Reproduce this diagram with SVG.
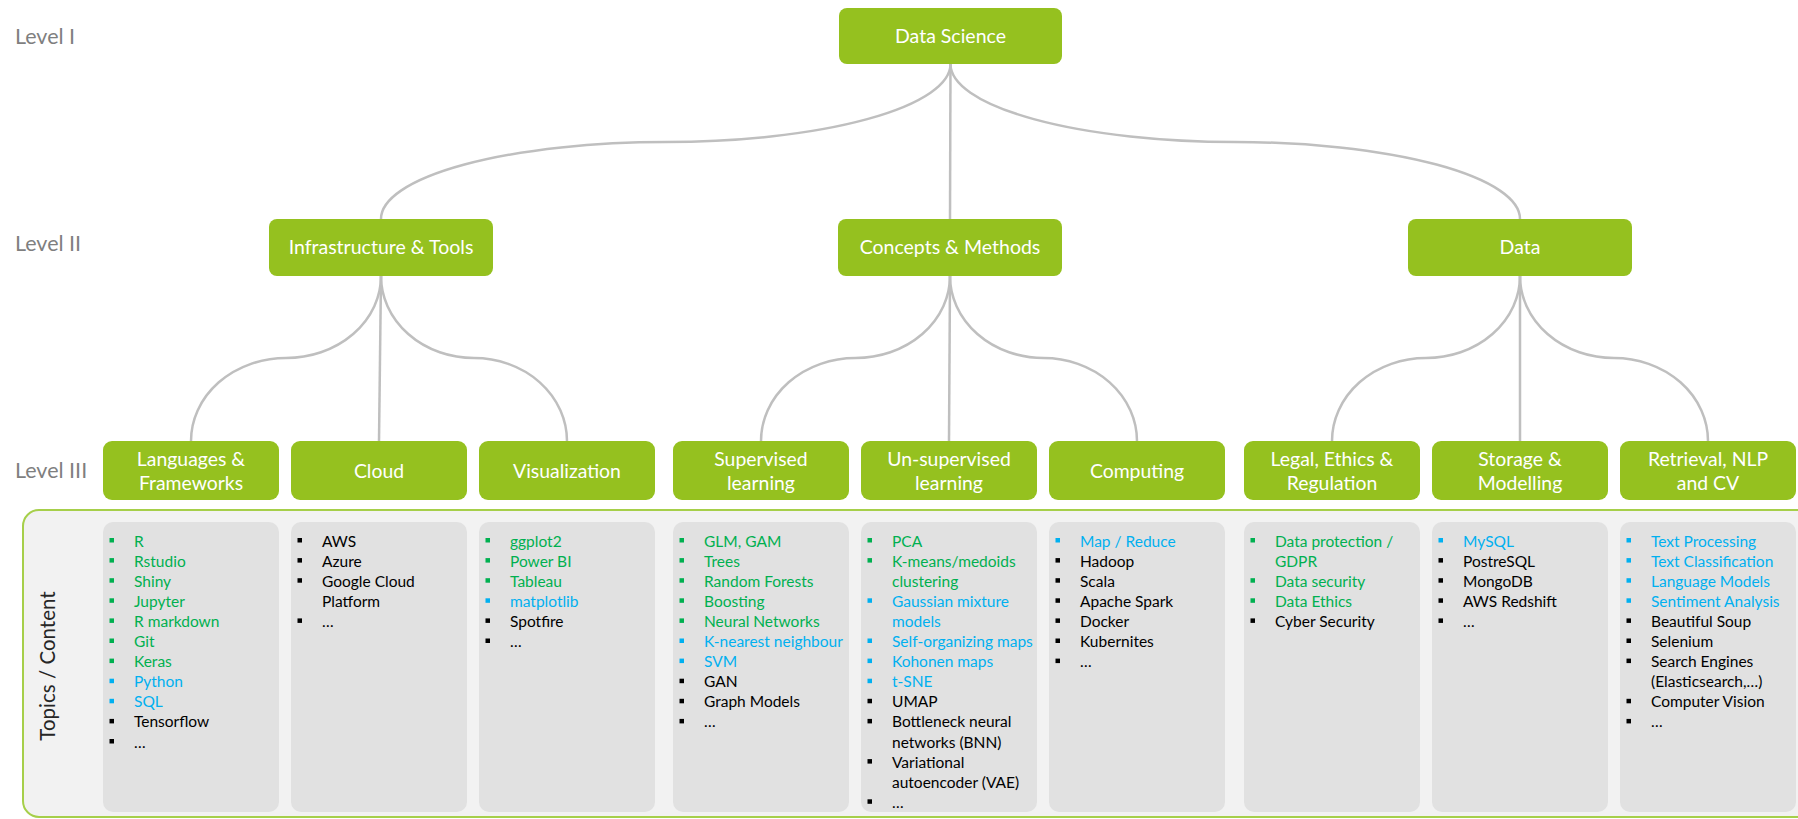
<svg xmlns="http://www.w3.org/2000/svg" width="1798" height="819" viewBox="0 0 1798 819">
<style>
text{font-family:Lato,"Liberation Sans",sans-serif}
.lvl{font-size:21.5px;fill:#7f7f7f}
.box{fill:#95c11f}
.bt{font-size:19.5px;fill:#fff;text-anchor:middle}
.bt3{font-size:19.4px;fill:#fff;text-anchor:middle}
.card{fill:#e1e1e1}
.li{font-size:15.5px}
.g{fill:#00b050}
.b{fill:#00b0f0}
.k{fill:#000}
.con{fill:none;stroke:#bfbfbf;stroke-width:2.5}
</style>
<rect width="1798" height="819" fill="#fff"/>
<text class="lvl" x="15" y="44">Level I</text>
<text class="lvl" x="15" y="251">Level II</text>
<text class="lvl" x="15" y="478">Level III</text>
<g id="panel">
<rect x="23" y="510" width="1800" height="307" rx="16" fill="#f2f2f2" stroke="#a6cf4a" stroke-width="2"/>
<text x="47" y="666" transform="rotate(-90 47 666)" text-anchor="middle" dominant-baseline="central" font-size="20.5" fill="#262626">Topics / Content</text>
</g>
<g id="connectors">
<path class="con" d="M950.5,64 A285,78 0 0 1 666,142 A285,77 0 0 0 381,219"/>
<path class="con" d="M950.5,64 L950,219"/>
<path class="con" d="M950.5,64 A285,78 0 0 0 1235,142 A285,77 0 0 1 1520,219"/>
<path class="con" d="M381,276 A95,82 0 0 1 286,358 A95,83 0 0 0 191,441"/>
<path class="con" d="M381,276 L379,441"/>
<path class="con" d="M381,276 A93,82 0 0 0 474,358 A93,83 0 0 1 567,441"/>
<path class="con" d="M950,276 A94.5,82 0 0 1 855.5,358 A94.5,83 0 0 0 761,441"/>
<path class="con" d="M950,276 L949,441"/>
<path class="con" d="M950,276 A93.5,82 0 0 0 1043.5,358 A93.5,83 0 0 1 1137,441"/>
<path class="con" d="M1520,276 A94,82 0 0 1 1426,358 A94,83 0 0 0 1332,441"/>
<path class="con" d="M1520,276 L1520,441"/>
<path class="con" d="M1520,276 A94,82 0 0 0 1614,358 A94,83 0 0 1 1708,441"/>
</g>
<g id="n-datascience"><rect class="box" x="839" y="8" width="223" height="56" rx="8"/><text class="bt" x="950.5" y="43">Data Science</text></g>
<g id="n-infra"><rect class="box" x="269" y="219" width="224" height="57" rx="8"/><text class="bt" x="381" y="254">Infrastructure &amp; Tools</text></g>
<g id="n-concepts"><rect class="box" x="838" y="219" width="224" height="57" rx="8"/><text class="bt" x="950" y="254">Concepts &amp; Methods</text></g>
<g id="n-data"><rect class="box" x="1408" y="219" width="224" height="57" rx="8"/><text class="bt" x="1520" y="254">Data</text></g>

<g id="n-languages"><rect class="box" x="103" y="441" width="176" height="59" rx="9"/><text class="bt3" x="191" y="465.5">Languages &amp;</text><text class="bt3" x="191" y="489.5">Frameworks</text>
<rect class="card" x="103" y="522" width="176" height="290" rx="10"/>
<rect class="g" x="109.5" y="538" width="4.5" height="4.5"/><rect class="g" x="109.5" y="558.1" width="4.5" height="4.5"/><rect class="g" x="109.5" y="578.2" width="4.5" height="4.5"/><rect class="g" x="109.5" y="598.3" width="4.5" height="4.5"/><rect class="g" x="109.5" y="618.4" width="4.5" height="4.5"/><rect class="g" x="109.5" y="638.5" width="4.5" height="4.5"/><rect class="g" x="109.5" y="658.6" width="4.5" height="4.5"/><rect class="b" x="109.5" y="678.7" width="4.5" height="4.5"/><rect class="b" x="109.5" y="698.8" width="4.5" height="4.5"/><rect class="k" x="109.5" y="718.9" width="4.5" height="4.5"/><rect class="k" x="109.5" y="739" width="4.5" height="4.5"/>
<text class="li"><tspan class="g" x="134" y="546.5">R</tspan><tspan class="g" x="134" y="566.6">Rstudio</tspan><tspan class="g" x="134" y="586.7">Shiny</tspan><tspan class="g" x="134" y="606.8">Jupyter</tspan><tspan class="g" x="134" y="626.9">R markdown</tspan><tspan class="g" x="134" y="647">Git</tspan><tspan class="g" x="134" y="667.1">Keras</tspan><tspan class="b" x="134" y="687.2">Python</tspan><tspan class="b" x="134" y="707.3">SQL</tspan><tspan class="k" x="134" y="727.4">Tensorflow</tspan><tspan class="k" x="134" y="747.5">…</tspan></text>
</g>

<g id="n-cloud"><rect class="box" x="291" y="441" width="176" height="59" rx="9"/><text class="bt3" x="379" y="477.5">Cloud</text>
<rect class="card" x="291" y="522" width="176" height="290" rx="10"/>
<rect class="k" x="297.5" y="538" width="4.5" height="4.5"/><rect class="k" x="297.5" y="558.1" width="4.5" height="4.5"/><rect class="k" x="297.5" y="578.2" width="4.5" height="4.5"/><rect class="k" x="297.5" y="618.4" width="4.5" height="4.5"/>
<text class="li"><tspan class="k" x="322" y="546.5">AWS</tspan><tspan class="k" x="322" y="566.6">Azure</tspan><tspan class="k" x="322" y="586.7">Google Cloud</tspan><tspan class="k" x="322" y="606.8">Platform</tspan><tspan class="k" x="322" y="626.9">…</tspan></text>
</g>

<g id="n-visualization"><rect class="box" x="479" y="441" width="176" height="59" rx="9"/><text class="bt3" x="567" y="477.5">Visualization</text>
<rect class="card" x="479" y="522" width="176" height="290" rx="10"/>
<rect class="g" x="485.5" y="538" width="4.5" height="4.5"/><rect class="g" x="485.5" y="558.1" width="4.5" height="4.5"/><rect class="g" x="485.5" y="578.2" width="4.5" height="4.5"/><rect class="b" x="485.5" y="598.3" width="4.5" height="4.5"/><rect class="k" x="485.5" y="618.4" width="4.5" height="4.5"/><rect class="k" x="485.5" y="638.5" width="4.5" height="4.5"/>
<text class="li"><tspan class="g" x="510" y="546.5">ggplot2</tspan><tspan class="g" x="510" y="566.6">Power BI</tspan><tspan class="g" x="510" y="586.7">Tableau</tspan><tspan class="b" x="510" y="606.8">matplotlib</tspan><tspan class="k" x="510" y="626.9">Spotfire</tspan><tspan class="k" x="510" y="647">…</tspan></text>
</g>

<g id="n-supervised"><rect class="box" x="673" y="441" width="176" height="59" rx="9"/><text class="bt3" x="761" y="465.5">Supervised</text><text class="bt3" x="761" y="489.5">learning</text>
<rect class="card" x="673" y="522" width="176" height="290" rx="10"/>
<rect class="g" x="679.5" y="538" width="4.5" height="4.5"/><rect class="g" x="679.5" y="558.1" width="4.5" height="4.5"/><rect class="g" x="679.5" y="578.2" width="4.5" height="4.5"/><rect class="g" x="679.5" y="598.3" width="4.5" height="4.5"/><rect class="g" x="679.5" y="618.4" width="4.5" height="4.5"/><rect class="b" x="679.5" y="638.5" width="4.5" height="4.5"/><rect class="b" x="679.5" y="658.6" width="4.5" height="4.5"/><rect class="k" x="679.5" y="678.7" width="4.5" height="4.5"/><rect class="k" x="679.5" y="698.8" width="4.5" height="4.5"/><rect class="k" x="679.5" y="718.9" width="4.5" height="4.5"/>
<text class="li"><tspan class="g" x="704" y="546.5">GLM, GAM</tspan><tspan class="g" x="704" y="566.6">Trees</tspan><tspan class="g" x="704" y="586.7">Random Forests</tspan><tspan class="g" x="704" y="606.8">Boosting</tspan><tspan class="g" x="704" y="626.9">Neural Networks</tspan><tspan class="b" x="704" y="647">K-nearest neighbour</tspan><tspan class="b" x="704" y="667.1">SVM</tspan><tspan class="k" x="704" y="687.2">GAN</tspan><tspan class="k" x="704" y="707.3">Graph Models</tspan><tspan class="k" x="704" y="727.4">…</tspan></text>
</g>

<g id="n-unsupervised"><rect class="box" x="861" y="441" width="176" height="59" rx="9"/><text class="bt3" x="949" y="465.5">Un-supervised</text><text class="bt3" x="949" y="489.5">learning</text>
<rect class="card" x="861" y="522" width="176" height="290" rx="10"/>
<rect class="g" x="867.5" y="538" width="4.5" height="4.5"/><rect class="g" x="867.5" y="558.1" width="4.5" height="4.5"/><rect class="b" x="867.5" y="598.3" width="4.5" height="4.5"/><rect class="b" x="867.5" y="638.5" width="4.5" height="4.5"/><rect class="b" x="867.5" y="658.6" width="4.5" height="4.5"/><rect class="b" x="867.5" y="678.7" width="4.5" height="4.5"/><rect class="k" x="867.5" y="698.8" width="4.5" height="4.5"/><rect class="k" x="867.5" y="718.9" width="4.5" height="4.5"/><rect class="k" x="867.5" y="759.1" width="4.5" height="4.5"/><rect class="k" x="867.5" y="799.3" width="4.5" height="4.5"/>
<text class="li"><tspan class="g" x="892" y="546.5">PCA</tspan><tspan class="g" x="892" y="566.6">K-means/medoids</tspan><tspan class="g" x="892" y="586.7">clustering</tspan><tspan class="b" x="892" y="606.8">Gaussian mixture</tspan><tspan class="b" x="892" y="626.9">models</tspan><tspan class="b" x="892" y="647">Self-organizing maps</tspan><tspan class="b" x="892" y="667.1">Kohonen maps</tspan><tspan class="b" x="892" y="687.2">t-SNE</tspan><tspan class="k" x="892" y="707.3">UMAP</tspan><tspan class="k" x="892" y="727.4">Bottleneck neural</tspan><tspan class="k" x="892" y="747.5">networks (BNN)</tspan><tspan class="k" x="892" y="767.6">Variational</tspan><tspan class="k" x="892" y="787.7">autoencoder (VAE)</tspan><tspan class="k" x="892" y="807.8">…</tspan></text>
</g>

<g id="n-computing"><rect class="box" x="1049" y="441" width="176" height="59" rx="9"/><text class="bt3" x="1137" y="477.5">Computing</text>
<rect class="card" x="1049" y="522" width="176" height="290" rx="10"/>
<rect class="b" x="1055.5" y="538" width="4.5" height="4.5"/><rect class="k" x="1055.5" y="558.1" width="4.5" height="4.5"/><rect class="k" x="1055.5" y="578.2" width="4.5" height="4.5"/><rect class="k" x="1055.5" y="598.3" width="4.5" height="4.5"/><rect class="k" x="1055.5" y="618.4" width="4.5" height="4.5"/><rect class="k" x="1055.5" y="638.5" width="4.5" height="4.5"/><rect class="k" x="1055.5" y="658.6" width="4.5" height="4.5"/>
<text class="li"><tspan class="b" x="1080" y="546.5">Map / Reduce</tspan><tspan class="k" x="1080" y="566.6">Hadoop</tspan><tspan class="k" x="1080" y="586.7">Scala</tspan><tspan class="k" x="1080" y="606.8">Apache Spark</tspan><tspan class="k" x="1080" y="626.9">Docker</tspan><tspan class="k" x="1080" y="647">Kubernites</tspan><tspan class="k" x="1080" y="667.1">…</tspan></text>
</g>

<g id="n-legal"><rect class="box" x="1244" y="441" width="176" height="59" rx="9"/><text class="bt3" x="1332" y="465.5">Legal, Ethics &amp;</text><text class="bt3" x="1332" y="489.5">Regulation</text>
<rect class="card" x="1244" y="522" width="176" height="290" rx="10"/>
<rect class="g" x="1250.5" y="538" width="4.5" height="4.5"/><rect class="g" x="1250.5" y="578.2" width="4.5" height="4.5"/><rect class="g" x="1250.5" y="598.3" width="4.5" height="4.5"/><rect class="k" x="1250.5" y="618.4" width="4.5" height="4.5"/>
<text class="li"><tspan class="g" x="1275" y="546.5">Data protection /</tspan><tspan class="g" x="1275" y="566.6">GDPR</tspan><tspan class="g" x="1275" y="586.7">Data security</tspan><tspan class="g" x="1275" y="606.8">Data Ethics</tspan><tspan class="k" x="1275" y="626.9">Cyber Security</tspan></text>
</g>

<g id="n-storage"><rect class="box" x="1432" y="441" width="176" height="59" rx="9"/><text class="bt3" x="1520" y="465.5">Storage &amp;</text><text class="bt3" x="1520" y="489.5">Modelling</text>
<rect class="card" x="1432" y="522" width="176" height="290" rx="10"/>
<rect class="b" x="1438.5" y="538" width="4.5" height="4.5"/><rect class="k" x="1438.5" y="558.1" width="4.5" height="4.5"/><rect class="k" x="1438.5" y="578.2" width="4.5" height="4.5"/><rect class="k" x="1438.5" y="598.3" width="4.5" height="4.5"/><rect class="k" x="1438.5" y="618.4" width="4.5" height="4.5"/>
<text class="li"><tspan class="b" x="1463" y="546.5">MySQL</tspan><tspan class="k" x="1463" y="566.6">PostreSQL</tspan><tspan class="k" x="1463" y="586.7">MongoDB</tspan><tspan class="k" x="1463" y="606.8">AWS Redshift</tspan><tspan class="k" x="1463" y="626.9">…</tspan></text>
</g>

<g id="n-retrieval"><rect class="box" x="1620" y="441" width="176" height="59" rx="9"/><text class="bt3" x="1708" y="465.5">Retrieval, NLP</text><text class="bt3" x="1708" y="489.5">and CV</text>
<rect class="card" x="1620" y="522" width="176" height="290" rx="10"/>
<rect class="b" x="1626.5" y="538" width="4.5" height="4.5"/><rect class="b" x="1626.5" y="558.1" width="4.5" height="4.5"/><rect class="b" x="1626.5" y="578.2" width="4.5" height="4.5"/><rect class="b" x="1626.5" y="598.3" width="4.5" height="4.5"/><rect class="k" x="1626.5" y="618.4" width="4.5" height="4.5"/><rect class="k" x="1626.5" y="638.5" width="4.5" height="4.5"/><rect class="k" x="1626.5" y="658.6" width="4.5" height="4.5"/><rect class="k" x="1626.5" y="698.8" width="4.5" height="4.5"/><rect class="k" x="1626.5" y="718.9" width="4.5" height="4.5"/>
<text class="li"><tspan class="b" x="1651" y="546.5">Text Processing</tspan><tspan class="b" x="1651" y="566.6">Text Classification</tspan><tspan class="b" x="1651" y="586.7">Language Models</tspan><tspan class="b" x="1651" y="606.8">Sentiment Analysis</tspan><tspan class="k" x="1651" y="626.9">Beautiful Soup</tspan><tspan class="k" x="1651" y="647">Selenium</tspan><tspan class="k" x="1651" y="667.1">Search Engines</tspan><tspan class="k" x="1651" y="687.2">(Elasticsearch,…)</tspan><tspan class="k" x="1651" y="707.3">Computer Vision</tspan><tspan class="k" x="1651" y="727.4">…</tspan></text>
</g>
</svg>
